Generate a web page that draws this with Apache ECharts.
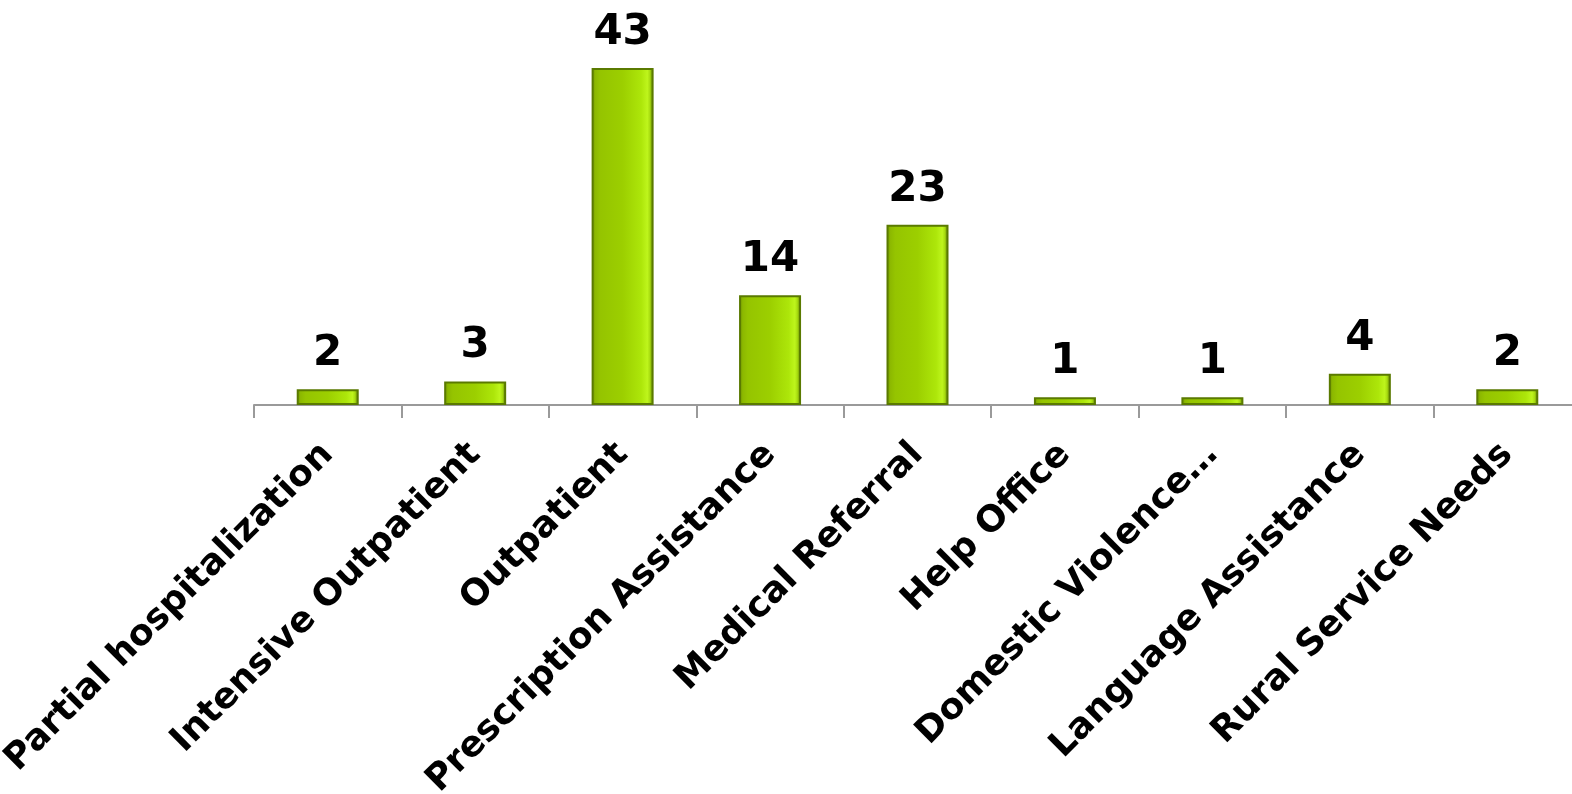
<!DOCTYPE html>
<html>
<head>
<meta charset="utf-8">
<script src="https://cdn.jsdelivr.net/npm/echarts@6/dist/echarts.min.js"></script>
<style>
html,body{margin:0;padding:0;background:#fff;}
#chart{width:1572px;height:794px;}
</style>
</head>
<body>
<div id="chart"></div>
<script>
const categories = ["Partial hospitalization","Intensive Outpatient","Outpatient","Prescription Assistance","Medical Referral","Help Office","Domestic Violence…","Language Assistance","Rural Service Needs"];
const values = [2,3,43,14,23,1,1,4,2];

const chart = echarts.init(document.getElementById('chart'));
const barColor = new echarts.graphic.LinearGradient(0,0,1,0,[
  {offset:0,color:'#6f9400'},
  {offset:0.06,color:'#8cb800'},
  {offset:0.14,color:'#95c400'},
  {offset:0.5,color:'#9ccf00'},
  {offset:0.8,color:'#ade60a'},
  {offset:0.9,color:'#bef51c'},
  {offset:0.94,color:'#a8dc10'},
  {offset:1,color:'#557500'}
]);
chart.setOption({
  animation:false,
  backgroundColor:'#ffffff',
  grid:{left:254,width:1327,top:68,bottom:389,containLabel:false,outerBoundsMode:'none'},
  xAxis:{
    type:'category',
    data:categories,
    axisLine:{show:true,lineStyle:{color:'#9a9a9a',width:2}},
    axisTick:{show:true,length:13,inside:false,lineStyle:{color:'#9a9a9a',width:2}},
    axisLabel:{
      interval:0,rotate:45,margin:44,
      fontFamily:'DejaVu Sans',fontWeight:'bold',fontSize:36,color:'#000'
    }
  },
  yAxis:{type:'value',min:0,max:43,show:false,splitLine:{show:false}},
  series:[{
    type:'bar',
    data:values,
    barWidth:62,
    itemStyle:{color:barColor,borderColor:'#5a7a00',borderWidth:2},
    label:{
      show:true,position:'top',distance:14,
      fontFamily:'DejaVu Sans',fontWeight:'bold',fontSize:42,color:'#000'
    }
  }]
});
</script>
</body>
</html>
